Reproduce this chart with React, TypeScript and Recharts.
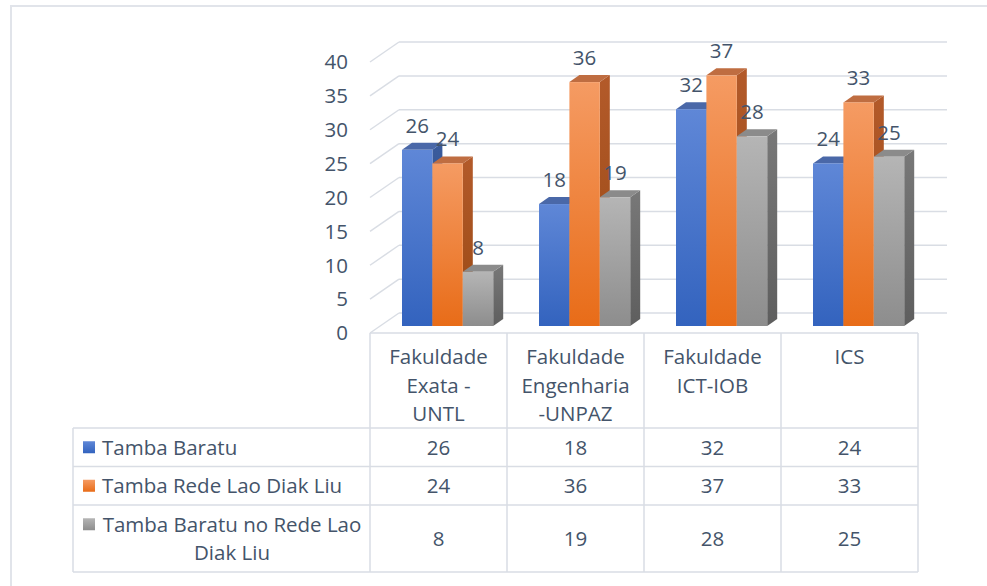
import React from 'react';
import { BarChart, Bar, XAxis, YAxis, CartesianGrid, LabelList } from 'recharts';

const categories = ['Fakuldade Exata - UNTL', 'Fakuldade Engenharia -UNPAZ', 'Fakuldade ICT-IOB', 'ICS'];
const seriesNames = ['Tamba Baratu', 'Tamba Rede Lao Diak Liu', 'Tamba Baratu no Rede Lao Diak Liu'];
const tambaBaratu = [26, 18, 32, 24];
const tambaRede = [24, 36, 37, 33];
const tambaBaratuNoRede = [8, 19, 28, 25];
const yTicks = [0, 5, 10, 15, 20, 25, 30, 35, 40];

const seriesValues = [tambaBaratu, tambaRede, tambaBaratuNoRede];
const data = categories.map((name, i) => ({
  name,
  s0: tambaBaratu[i],
  s1: tambaRede[i],
  s2: tambaBaratuNoRede[i],
}));

const W = 987;
const H = 586;
const FS = 20.5;
const FONT = '"Open Sans", sans-serif';
const TEXT = '#44546A';
const LINE = '#D9DDE4';

// front plane of the 3D box
const PLOT_LEFT = 370;
const PLOT_RIGHT = 918;
const PLOT_TOP = 62;
const AXIS_Y = 333;
const BAND = (PLOT_RIGHT - PLOT_LEFT) / categories.length;

// wall depth, bar placement inside the box and the column depth
const WALL_DX = 29;
const WALL_DY = -20;
const SX = 9;
const SY = -7;
const DX = 10;
const DY = -7;

// data table rows (offsets from the floor edge)
const TABLE_LEFT = 73;
const ROW_EDGES = [0, 95, 133.5, 172, 239];
const LABEL_X = 102;
const LH = 28.5;
const CAP_HALF = FS * 0.357;

const PALETTE = [
  { front: ['#5F87D7', '#3363BE'], side: ['#3A5B9C', '#2B4A88'], top: '#4A68A8' },
  { front: ['#F59B63', '#E86C18'], side: ['#B35A2A', '#994913'], top: '#BF6D41' },
  { front: ['#B5B5B5', '#8D8D8D'], side: ['#787878', '#5E5E5E'], top: '#8B8B8B' },
];

let ctx: CanvasRenderingContext2D | null = null;
function measure(s: string) {
  if (!ctx) ctx = document.createElement('canvas').getContext('2d');
  if (!ctx) return s.length * FS * 0.55;
  ctx.font = `${FS}px "Open Sans"`;
  return ctx.measureText(s).width;
}

function wrap(s: string, maxW: number) {
  const lines: string[] = [];
  let cur = '';
  s.split(' ').forEach((w) => {
    const test = cur ? cur + ' ' + w : w;
    if (cur && measure(test) > maxW) {
      lines.push(cur);
      cur = w;
    } else {
      cur = test;
    }
  });
  if (cur) lines.push(cur);
  return lines;
}

// lines drawn so that their block is centred on cy (or first line centred on cy when top = true)
const Lines = ({ x, cy, lines, anchor = 'middle', top = false }: any) => {
  const first = top ? cy : cy - ((lines.length - 1) / 2) * LH;
  return (
    <text x={x} textAnchor={anchor} fill={TEXT} fontSize={FS} fontFamily={FONT}>
      {lines.map((l: string, k: number) => (
        <tspan key={k} x={x} y={first + k * LH + CAP_HALF}>
          {l}
        </tspan>
      ))}
    </text>
  );
};

const Column3D = (props: any) => {
  const { x, y, width, height, si, index } = props;
  if (height == null || width == null) return null;
  const c = PALETTE[si];
  const fx = x + SX;
  const fy = y + SY;
  const base = fy + height;
  const r = fx + width;
  const fid = `fr-${si}-${index}`;
  const sid = `sd-${si}-${index}`;
  return (
    <g>
      <defs>
        <linearGradient id={fid} x1="0" y1="0" x2="0" y2="1">
          <stop offset="0%" stopColor={c.front[0]} />
          <stop offset="100%" stopColor={c.front[1]} />
        </linearGradient>
        <linearGradient id={sid} x1="0" y1="0" x2="0" y2="1">
          <stop offset="0%" stopColor={c.side[0]} />
          <stop offset="100%" stopColor={c.side[1]} />
        </linearGradient>
      </defs>
      <polygon points={`${r},${fy} ${r + DX},${fy + DY} ${r + DX},${base + DY} ${r},${base}`} fill={`url(#${sid})`} />
      <polygon points={`${fx},${fy} ${fx + DX},${fy + DY} ${r + DX},${fy + DY} ${r},${fy}`} fill={c.top} />
      <rect x={fx} y={fy} width={width} height={height} fill={`url(#${fid})`} />
    </g>
  );
};

const ValueLabel = (props: any) => {
  const { x, y, width, value } = props;
  return (
    <text x={x + SX + width / 2} y={y + SY - 17} textAnchor="middle" fill={TEXT} fontSize={FS} fontFamily={FONT}>
      {value}
    </text>
  );
};

const WallLine = (p: any) => (
  <g key={`wall-${p.index}`}>
    <line x1={p.x1} y1={p.y1} x2={p.x1 + WALL_DX} y2={p.y1 + WALL_DY} stroke={LINE} strokeWidth={1.5} />
    <line
      x1={p.x1 + WALL_DX}
      y1={p.y1 + WALL_DY}
      x2={p.x2 + WALL_DX}
      y2={p.y2 + WALL_DY}
      stroke={LINE}
      strokeWidth={1.5}
    />
  </g>
);

const TableColumn = (props: any) => {
  const { x, payload } = props;
  const ci = categories.indexOf(payload.value);
  const left = x - BAND / 2;
  const right = x + BAND / 2;
  const top = AXIS_Y;
  const bottom = top + ROW_EDGES[ROW_EDGES.length - 1];
  const last = ci === categories.length - 1;
  const rowCenter = (k: number) => top + (ROW_EDGES[k + 1] + ROW_EDGES[k + 2]) / 2;
  return (
    <g>
      {ROW_EDGES.map((e, k) => (
        <line key={k} x1={left} x2={right} y1={top + e} y2={top + e} stroke={LINE} strokeWidth={1.5} />
      ))}
      <line x1={left} x2={left} y1={top} y2={bottom} stroke={LINE} strokeWidth={1.5} />
      {last && <line x1={right} x2={right} y1={top} y2={bottom} stroke={LINE} strokeWidth={1.5} />}
      <Lines x={x} cy={top + 24} top lines={wrap(payload.value, 112)} />
      {seriesValues.map((vals, si) => (
        <Lines key={si} x={x} cy={rowCenter(si)} lines={[String(vals[ci])]} />
      ))}
      {ci === 0 && (
        <g>
          {ROW_EDGES.slice(1).map((e, k) => (
            <line key={k} x1={TABLE_LEFT} x2={left} y1={top + e} y2={top + e} stroke={LINE} strokeWidth={1.5} />
          ))}
          <line x1={TABLE_LEFT} x2={TABLE_LEFT} y1={top + ROW_EDGES[1]} y2={bottom} stroke={LINE} strokeWidth={1.5} />
          <defs>
            {PALETTE.map((c, si) => (
              <linearGradient key={si} id={`key-${si}`} x1="0" y1="0" x2="0" y2="1">
                <stop offset="0%" stopColor={c.front[0]} />
                <stop offset="100%" stopColor={c.front[1]} />
              </linearGradient>
            ))}
          </defs>
          {seriesNames.map((name, si) => {
            const cy = rowCenter(si);
            const lines = wrap(name, 275);
            const multi = lines.length > 1;
            const keyY = multi ? cy - ((lines.length - 1) / 2) * LH : cy;
            return (
              <g key={si}>
                <rect x={83} y={keyY - 6} width={12} height={12} fill={`url(#key-${si})`} />
                <Lines
                  x={multi ? (LABEL_X + left - 8) / 2 : LABEL_X}
                  cy={cy}
                  anchor={multi ? 'middle' : 'start'}
                  lines={lines}
                />
              </g>
            );
          })}
        </g>
      )}
    </g>
  );
};

export default function App() {
  return (
    <div style={{ position: 'absolute', left: 0, top: 0, width: W, height: H, background: '#fff', overflow: 'hidden' }}>
      <div
        style={{
          position: 'absolute',
          left: 10,
          top: 5,
          width: 1000,
          height: 640,
          border: '2px solid #E1E4EA',
          boxSizing: 'border-box',
        }}
      />
      <div style={{ position: 'absolute', left: 0, top: 0 }}>
        <BarChart
          width={W}
          height={H}
          data={data}
          margin={{ top: PLOT_TOP, right: W - PLOT_RIGHT, bottom: 0, left: PLOT_LEFT - 80 }}
          barSize={30.4}
          barGap={0}
        >
          <CartesianGrid vertical={false} horizontal={WallLine} />
          <XAxis
            dataKey="name"
            axisLine={false}
            tickLine={false}
            tickSize={0}
            tickMargin={0}
            interval={0}
            height={H - AXIS_Y}
            tick={(p: any) => <TableColumn {...p} />}
          />
          <YAxis
            type="number"
            domain={[0, 40]}
            ticks={yTicks}
            interval={0}
            axisLine={false}
            tickLine={false}
            tickSize={0}
            tickMargin={22}
            width={80}
            tick={{ fill: TEXT, fontSize: FS, fontFamily: FONT }}
          />
          {['s0', 's1', 's2'].map((key, si) => (
            <Bar
              key={key}
              dataKey={key}
              name={seriesNames[si]}
              isAnimationActive={false}
              shape={(p: any) => <Column3D {...p} si={si} />}
            >
              <LabelList dataKey={key} content={<ValueLabel />} />
            </Bar>
          ))}
        </BarChart>
      </div>
    </div>
  );
}
